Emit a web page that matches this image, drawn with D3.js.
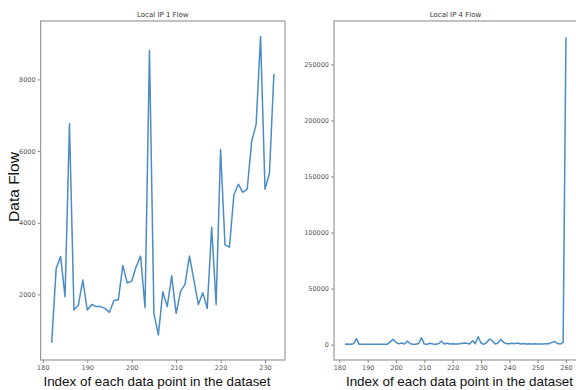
<!DOCTYPE html>
<html><head><meta charset="utf-8">
<script src="https://cdn.jsdelivr.net/npm/d3@7"></script>
<style>
body{margin:0;background:#fff;}
svg{display:block;}
.tick text{font-family:"DejaVu Sans",sans-serif;font-size:6.5px;fill:#555;}
.tick line{stroke:#888;}
.domain{display:none;}
</style></head>
<body>
<svg id="c" width="576" height="390"></svg>
<script>
// Left chart: Local IP 1 Flow
const ip1Index = d3.range(182, 233);
const ip1Flow = [650, 2720, 3060, 1935, 6760, 1565, 1705, 2400, 1565, 1720,
  1660, 1660, 1610, 1500, 1833, 1850, 2810, 2320, 2370, 2770,
  3070, 1630, 8810, 1470, 870, 2075, 1660, 2520, 1470, 2090,
  2280, 3070, 2400, 1720, 2045, 1610, 3875, 1720, 6045, 3385,
  3320, 4780, 5075, 4845, 4936, 6275, 6737, 9200, 4936, 5380, 8150];
const ip1YTicks = [2000, 4000, 6000, 8000];
const ip1XTicks = [180, 190, 200, 210, 220, 230];

// Right chart: Local IP 4 Flow
const ip4Index = d3.range(182, 261);
const ip4Flow = [300, 500, 400, 800, 5300, 300, 300, 250, 300, 300,
  250, 300, 300, 250, 300, 400, 2500, 4800, 2000, 700,
  1500, 600, 3300, 800, 300, 400, 1000, 6200, 500, 400,
  1200, 600, 400, 800, 3000, 500, 1200, 500, 800, 600,
  500, 1000, 1500, 1200, 500, 3500, 800, 7000, 1500, 300,
  2000, 5000, 3500, 600, 1500, 4800, 2000, 800, 700, 1200,
  900, 1500, 600, 1000, 500, 800, 600, 700, 500, 600,
  500, 700, 800, 2000, 2800, 1000, 500, 2000, 274000];
const ip4YTicks = [0, 50000, 100000, 150000, 200000, 250000];
const ip4XTicks = [180, 190, 200, 210, 220, 230, 240, 250, 260];

const svg = d3.select("#c");
const lineColor = "#4a8dc6";

function panel(cfg){
  const g = svg.append("g");
  const x = d3.scaleLinear().domain(cfg.xDomain).range([cfg.x0, cfg.x1]);
  const y = d3.scaleLinear().domain(cfg.yDomain).range([cfg.y1, cfg.y0]);
  g.append("rect").attr("x", cfg.x0).attr("y", cfg.y0)
    .attr("width", cfg.x1 - cfg.x0).attr("height", cfg.y1 - cfg.y0)
    .attr("fill", "none").attr("stroke", "#999").attr("stroke-width", 1.2);
  g.append("g").attr("transform", `translate(0,${cfg.y1})`)
    .call(d3.axisBottom(x).tickValues(cfg.xTicks).tickSize(3).tickPadding(2).tickFormat(d3.format("d")));
  g.append("g").attr("transform", `translate(${cfg.x0},0)`)
    .call(d3.axisLeft(y).tickValues(cfg.yTicks).tickSize(3).tickPadding(2).tickFormat(d3.format("d")));
  const line = d3.line().x((d, i) => x(cfg.idx[i])).y(d => y(d));
  g.append("path").datum(cfg.vals).attr("d", line)
    .attr("fill", "none").attr("stroke", lineColor).attr("stroke-width", 1.5)
    .attr("stroke-linejoin", "round");
  g.append("text").attr("x", (cfg.x0 + cfg.x1) / 2).attr("y", 17)
    .attr("text-anchor", "middle").attr("font-family", "DejaVu Sans, sans-serif")
    .attr("font-size", 7).attr("fill", "#333").text(cfg.title);
  g.append("text").attr("x", cfg.labelX).attr("y", 386)
    .attr("text-anchor", "middle").attr("font-family", "Liberation Sans, Arial, sans-serif")
    .attr("font-size", 13.4).attr("fill", "#111").text("Index of each data point in the dataset");
}

panel({x0: 40.6, x1: 285, y0: 21, y1: 360,
  xDomain: [179.5, 234.5], yDomain: [170, 9630],
  xTicks: ip1XTicks, yTicks: ip1YTicks,
  idx: ip1Index, vals: ip1Flow, title: "Local IP 1 Flow", labelX: 157});

panel({x0: 334, x1: 577, y0: 21, y1: 360,
  xDomain: [178.1, 263.9], yDomain: [-13700, 288700],
  xTicks: ip4XTicks, yTicks: ip4YTicks,
  idx: ip4Index, vals: ip4Flow, title: "Local IP 4 Flow", labelX: 459.5});

svg.append("text").attr("transform", "translate(18.5,187) rotate(-90)")
  .attr("text-anchor", "middle").attr("font-family", "Liberation Sans, Arial, sans-serif")
  .attr("font-size", 15.5).attr("fill", "#111").text("Data Flow");
</script>
</body></html>
